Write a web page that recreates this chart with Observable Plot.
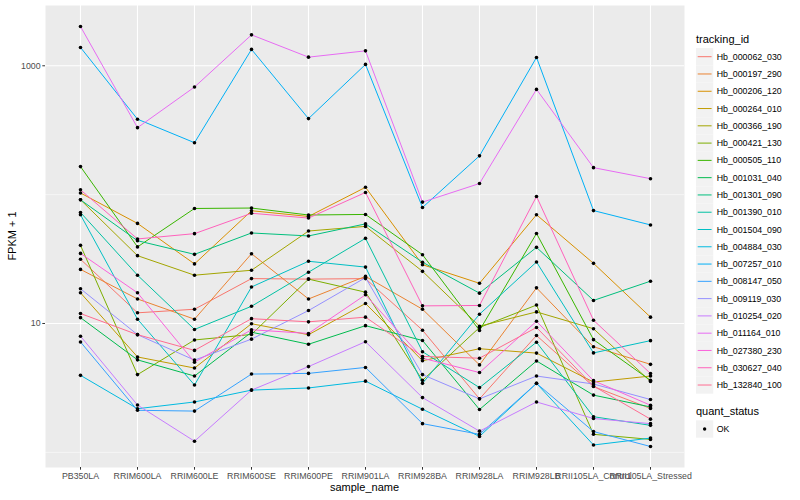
<!DOCTYPE html>
<html>
<head>
<meta charset="utf-8">
<script src="https://cdn.jsdelivr.net/npm/d3@7"></script>
<script src="https://cdn.jsdelivr.net/npm/@observablehq/plot@0.6"></script>
<style>
  html, body { margin: 0; padding: 0; background: #ffffff; }
  #chart svg { display: block; }
</style>
</head>
<body>
<div id="chart"></div>
<script>
// ---- categories / tick labels ----
const samples = ["PB350LA","RRIM600LA","RRIM600LE","RRIM600SE","RRIM600PE","RRIM901LA",
  "RRIM928BA","RRIM928LA","RRIM928LB","RRII105LA_Control","RRII105LA_Stressed"];
const yTicks = [10, 1000];
const yMinorTicks = [1, 100];

const trackingIds = ["Hb_000062_030","Hb_000197_290","Hb_000206_120","Hb_000264_010",
  "Hb_000366_190","Hb_000421_130","Hb_000505_110","Hb_001031_040","Hb_001301_090",
  "Hb_001390_010","Hb_001504_090","Hb_004884_030","Hb_007257_010","Hb_008147_050",
  "Hb_009119_030","Hb_010254_020","Hb_011164_010","Hb_027380_230","Hb_030627_040",
  "Hb_132840_100"];
const palette = ["#F8766D","#EA8331","#D89000","#C09B00","#A3A500","#7CAE00","#39B600",
  "#00BB4E","#00BF7D","#00C1A3","#00BFC4","#00BAE0","#00B0F6","#35A2FF","#9590FF",
  "#C77CFF","#E76BF3","#FA62DB","#FF62BC","#FF6C91"];

// ---- series values (FPKM + 1), one per sample ----
const Hb_000062_030 = [31.5, 12.1, 12.9, 22.3, 22.1, 22.3, 8.87, 2.60, 8.07, 3.24, 2.19];
const Hb_000197_290 = [26.3, 15.5, 10.8, 34.8, 15.5, 23.2, 12.9, 4.77, 18.9, 6.60, 4.82];
const Hb_000206_120 = [103, 59.8, 29.0, 75.0, 67.7, 114, 28.6, 20.5, 69.8, 29.3, 11.2];
const Hb_000264_010 = [17.3, 5.50, 4.51, 9.96, 8.18, 14.3, 5.14, 6.37, 5.89, 3.51, 3.91];
const Hb_000366_190 = [91.2, 33.6, 23.7, 25.9, 52.2, 56.7, 25.4, 9.53, 12.3, 9.11, 3.55];
const Hb_000421_130 = [40.4, 4.01, 7.45, 8.22, 22.1, 17.5, 3.62, 9.31, 13.9, 1.38, 1.26];
const Hb_000505_110 = [165, 39.3, 78.1, 78.7, 69.5, 70.2, 34.2, 8.83, 50.0, 7.49, 3.62];
const Hb_001031_040 = [11.1, 5.22, 3.91, 8.56, 6.90, 9.62, 7.38, 2.15, 5.12, 2.78, 2.25];
const Hb_001301_090 = [91.2, 43.9, 34.4, 50.4, 47.8, 59.3, 29.9, 17.2, 39.0, 15.1, 21.3];
const Hb_001390_010 = [72.7, 23.7, 8.99, 13.6, 25.0, 45.8, 6.04, 3.18, 7.16, 1.89, 1.62];
const Hb_001504_090 = [69.8, 10.8, 3.33, 19.2, 30.4, 27.4, 3.43, 11.8, 30.0, 5.91, 7.36];
const Hb_004884_030 = [3.96, 2.18, 2.46, 3.04, 3.16, 3.57, 2.16, 1.33, 3.43, 1.14, 1.29];
const Hb_007257_010 = [1388, 385, 253, 1340, 389, 1025, 79.5, 200, 1161, 75.2, 58.2];
const Hb_008147_050 = [7.19, 2.12, 2.09, 4.05, 4.10, 4.56, 1.67, 1.38, 3.43, 1.45, 1.11];
const Hb_009119_030 = [18.6, 8.19, 5.20, 7.56, 12.6, 22.7, 4.01, 2.60, 3.91, 3.39, 2.57];
const Hb_010254_020 = [7.97, 2.33, 1.22, 3.04, 4.63, 7.22, 2.66, 1.46, 2.46, 1.83, 1.67];
const Hb_011164_010 = [2018, 331, 684, 1738, 1167, 1306, 87.5, 122, 656, 162, 133];
const Hb_027380_230 = [35.0, 17.3, 5.01, 8.94, 8.37, 16.7, 5.38, 4.16, 10.4, 3.60, 2.32];
const Hb_030627_040 = [109, 45.3, 49.8, 71.7, 65.8, 104, 13.7, 13.8, 96.8, 10.6, 4.09];
const Hb_132840_100 = [11.95, 8.19, 6.18, 10.9, 10.3, 11.2, 5.55, 5.38, 9.31, 3.27, 1.81];

const seriesValues = [Hb_000062_030, Hb_000197_290, Hb_000206_120, Hb_000264_010,
  Hb_000366_190, Hb_000421_130, Hb_000505_110, Hb_001031_040, Hb_001301_090,
  Hb_001390_010, Hb_001504_090, Hb_004884_030, Hb_007257_010, Hb_008147_050,
  Hb_009119_030, Hb_010254_020, Hb_011164_010, Hb_027380_230, Hb_030627_040,
  Hb_132840_100];

// long table built from the arrays
const data = trackingIds.flatMap((id, i) =>
  samples.map((s, j) => ({id, sample: s, value: seriesValues[i][j]})));

// ggplot-like 5% expansion in log space
const ext = d3.extent(data, d => Math.log10(d.value));
const pad = (ext[1] - ext[0]) * 0.05;
const yDomain = [Math.pow(10, ext[0] - pad), Math.pow(10, ext[1] + pad)];

const W = 800, H = 500;
const mL = 45, mR = 116, mT = 5, mB = 33;
const font = "'Liberation Sans', Arial, Helvetica, sans-serif";

const plot = Plot.plot({
  width: W, height: H,
  marginLeft: mL, marginRight: mR, marginTop: mT, marginBottom: mB,
  style: {fontFamily: font, background: "#ffffff"},
  x: {type: "point", domain: samples, padding: 0.6},
  y: {type: "log", domain: yDomain},
  color: {type: "ordinal", domain: trackingIds, range: palette},
  marks: [
    Plot.frame({fill: "#EBEBEB", stroke: null}),
    Plot.ruleY(yMinorTicks, {stroke: "#ffffff", strokeWidth: 0.55}),
    Plot.ruleY(yTicks, {stroke: "#ffffff", strokeWidth: 1.1}),
    Plot.ruleX(samples, {stroke: "#ffffff", strokeWidth: 1.1}),
    Plot.line(data, {x: "sample", y: "value", z: "id", stroke: "id", strokeWidth: 1}),
    Plot.dot(data, {x: "sample", y: "value", r: 1.8, fill: "#000000", stroke: null}),
    Plot.axisX({tickSize: 2.7, tickPadding: 2.2, stroke: "#333333", fill: "#4D4D4D",
      fontSize: 8.8, label: null}),
    Plot.axisY({ticks: yTicks, tickFormat: d => String(d), tickSize: 2.7, tickPadding: 2.2,
      stroke: "#333333", fill: "#4D4D4D", fontSize: 8.8, label: null})
  ]
});

document.getElementById("chart").appendChild(plot);

// ---- axis titles and legend (ggplot style) ----
const svg = d3.select(plot);
const colorScale = plot.scale("color");

svg.append("text")
  .attr("x", (mL + (W - mR)) / 2).attr("y", 491)
  .attr("text-anchor", "middle").attr("font-size", 11).attr("fill", "#000")
  .attr("font-family", font).text("sample_name");

svg.append("text")
  .attr("transform", `translate(16,${(mT + H - mB) / 2}) rotate(-90)`)
  .attr("text-anchor", "middle").attr("font-size", 11).attr("fill", "#000")
  .attr("font-family", font).text("FPKM + 1");

const lg = svg.append("g").attr("font-family", font).attr("text-anchor", "start");
const keyX = 696, keyS = 17.28, firstY = 56.7;
lg.append("text").attr("x", keyX).attr("y", 42.5).attr("font-size", 11)
  .attr("text-anchor", "start").attr("fill", "#000").text("tracking_id");
trackingIds.forEach((id, i) => {
  const cy = firstY + keyS * i;
  lg.append("rect").attr("x", keyX).attr("y", cy - keyS / 2)
    .attr("width", keyS).attr("height", keyS).attr("fill", "#F2F2F2");
  lg.append("line").attr("x1", keyX + 1.7).attr("x2", keyX + keyS - 1.7)
    .attr("y1", cy).attr("y2", cy)
    .attr("stroke", colorScale.apply(id)).attr("stroke-width", 1);
  lg.append("text").attr("x", keyX + keyS + 3.4).attr("y", cy + 3.1)
    .attr("text-anchor", "start")
    .attr("font-size", 8.8).attr("fill", "#000").text(id);
});
lg.append("text").attr("x", keyX).attr("y", 415).attr("font-size", 11)
  .attr("text-anchor", "start").attr("fill", "#000").text("quant_status");
const okY = 429;
lg.append("rect").attr("x", keyX).attr("y", okY - keyS / 2)
  .attr("width", keyS).attr("height", keyS).attr("fill", "#F2F2F2");
lg.append("circle").attr("cx", keyX + keyS / 2).attr("cy", okY).attr("r", 1.7).attr("fill", "#000");
lg.append("text").attr("x", keyX + keyS + 3.4).attr("y", okY + 3.1)
  .attr("text-anchor", "start")
  .attr("font-size", 8.8).attr("fill", "#000").text("OK");
</script>
</body>
</html>
